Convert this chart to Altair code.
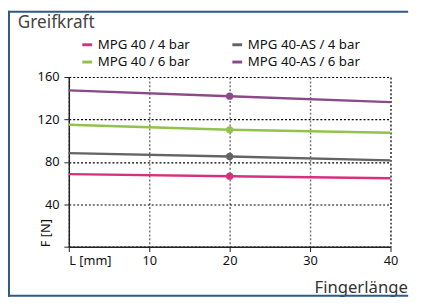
import altair as alt
import pandas as pd

# ---- data ----
lengths = [0, 20, 40]
series = ["MPG 40 / 4 bar", "MPG 40 / 6 bar", "MPG 40-AS / 4 bar", "MPG 40-AS / 6 bar"]
mpg40_4 = [68.4, 66.5, 64.6]
mpg40_6 = [114.9, 110.2, 107.4]
mpg40as_4 = [88.2, 85.1, 81.4]
mpg40as_6 = [147.4, 141.9, 136.3]
colors = ["#d6307f", "#92c24c", "#646464", "#8a4a8a"]
x_ticks = [0, 10, 20, 30, 40]
y_ticks = [0, 20, 40, 60, 80, 100, 120, 140, 160]

values = [mpg40_4, mpg40_6, mpg40as_4, mpg40as_6]
rows = []
for name, vals in zip(series, values):
    for L, F in zip(lengths, vals):
        rows.append({"L": L, "F": F, "Serie": name})
df = pd.DataFrame(rows)
one = pd.DataFrame({"k": [0]})

FONT = "Noto Sans"
FRAME = "#2d5a86"

x_enc = alt.X(
    "L:Q",
    scale=alt.Scale(domain=[0, 40], nice=False, zero=True),
    axis=alt.Axis(
        values=x_ticks,
        labelExpr="datum.value == 0 ? 'L [mm]' : datum.label",
        labelAlign=alt.condition("datum.value == 0", alt.value("left"), alt.value("center")),
        labelFontSize=13,
        labelFont=FONT,
        labelColor="#111",
        labelPadding=3,
        tickSize=5,
        tickColor="#222",
        domainColor="#222",
        domainWidth=1.5,
        grid=True,
        gridColor=alt.condition("datum.value == 40", alt.value("#222"), alt.value("#777")),
        gridDash=[2, 2],
        gridWidth=1.5,
        title="Fingerlänge",
        titleFont=FONT,
        titleFontSize=17,
        titleFontWeight="normal",
        titleColor="#333",
        titleX=250,
        titleY=47,
        titleAlign="left",
        titleBaseline="alphabetic",
        titleAnchor="start",
    ),
)
y_enc = alt.Y(
    "F:Q",
    scale=alt.Scale(domain=[0, 160], nice=False),
    axis=alt.Axis(
        values=y_ticks,
        labelExpr="datum.value > 0 && datum.value % 40 == 0 ? datum.label : ''",
        labelFontSize=13,
        labelFont=FONT,
        labelColor="#111",
        labelPadding=5,
        tickSize=5,
        tickColor="#222",
        domainColor="#222",
        domainWidth=1.5,
        grid=True,
        gridColor=alt.condition("datum.value % 40 == 0", alt.value("#000"), alt.value("#777")),
        gridWidth=alt.condition("datum.value % 40 == 0", alt.value(1.2), alt.value(1.8)),
        gridDash=[2, 2],
        title="F [N]",
        titleFont=FONT,
        titleFontSize=13,
        titleFontWeight="normal",
        titleColor="#111",
        titleAngle=270,
        titleX=-24,
        titleY=173,
        titleAlign="left",
        titleBaseline="middle",
        titleAnchor="start",
    ),
)
color_enc = alt.Color(
    "Serie:N",
    scale=alt.Scale(domain=series, range=colors),
    sort=series,
    legend=alt.Legend(
        orient="none",
        legendX=12,
        legendY=-40,
        columns=2,
        title=None,
        symbolType="stroke",
        symbolStrokeWidth=3,
        symbolSize=100,
        labelFont=FONT,
        labelFontSize=13.5,
        labelColor="#111",
        labelOffset=4,
        columnPadding=36,
        rowPadding=3,
        padding=0,
    ),
)

lines = alt.Chart(df).mark_line(strokeWidth=2.5).encode(x=x_enc, y=y_enc, color=color_enc)
points = (
    alt.Chart(df)
    .transform_filter("datum.L == 20")
    .mark_circle(size=55, opacity=1)
    .encode(x="L:Q", y="F:Q", color=alt.Color("Serie:N", legend=None))
)

frame_top = alt.Chart(one).mark_rule(stroke=FRAME, strokeWidth=2).encode(
    x=alt.value(-62), x2=alt.value(346), y=alt.value(-66.5)
)
frame_bottom = alt.Chart(one).mark_rule(stroke=FRAME, strokeWidth=2).encode(
    x=alt.value(-62), x2=alt.value(346), y=alt.value(223)
)
frame_left = alt.Chart(one).mark_rule(stroke=FRAME, strokeWidth=2).encode(
    x=alt.value(-61), y=alt.value(-67.5), y2=alt.value(224)
)
title = alt.Chart(one).mark_text(
    text="Greifkraft", align="left", baseline="alphabetic", font=FONT, fontSize=17.5,
    fontWeight="normal", color="#444"
).encode(x=alt.value(-52), y=alt.value(-49.5))

chart = (
    alt.layer(frame_top, frame_bottom, frame_left, lines, points, title)
    .properties(
        width=328,
        height=173,
        autosize=alt.AutoSizeParams(type="none"),
        padding={"left": 62, "top": 67.5, "right": 26, "bottom": 50.5},
        background="white",
    )
    .configure_view(stroke=None)
)

chart.save("out.html", embed_options={"renderer": "svg", "actions": False})
